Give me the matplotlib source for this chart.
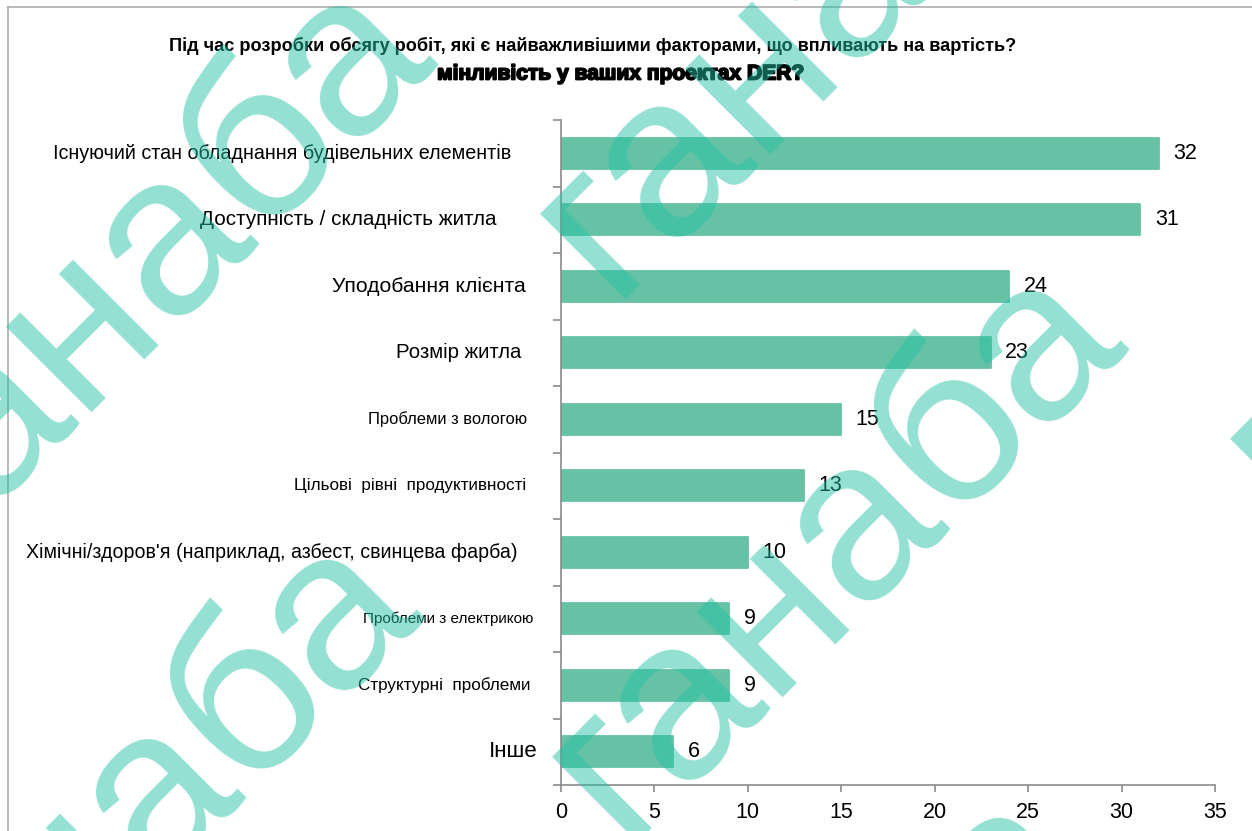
import matplotlib
matplotlib.use("Agg")
import matplotlib.pyplot as plt
import matplotlib.patheffects as pe
from matplotlib.transforms import IdentityTransform, blended_transform_factory
from matplotlib.lines import Line2D
import numpy as np

# ---- data -------------------------------------------------------------
categories = [
    "Існуючий стан обладнання будівельних елементів",
    "Доступність / складність житла",
    "Уподобання клієнта",
    "Розмір житла",
    "Проблеми з вологою",
    "Цільові  рівні  продуктивності",
    "Хімічні/здоров'я (наприклад, азбест, свинцева фарба)",
    "Проблеми з електрикою",
    "Структурні  проблеми",
    "Інше",
]
values = [32, 31, 24, 23, 15, 13, 10, 9, 9, 6]
x_ticks = [0, 5, 10, 15, 20, 25, 30, 35]
title_line1 = ("Під час розробки обсягу робіт, які є найважливішими "
               "факторами, що впливають на вартість?")
title_line2 = "мінливість у ваших проектах DER?"
watermark_word = "ганаба"

# ---- layout -----------------------------------------------------------
W, H, DPI = 1252, 831, 100
FONT = "Liberation Sans"
plt.rcParams["font.family"] = [FONT, "DejaVu Sans"]

BAR = "#66C2A5"
GREY = "#8a8a8a"

fig = plt.figure(figsize=(W / DPI, H / DPI), dpi=DPI, facecolor="white")
px = IdentityTransform()

# plot area in pixels: x 561..1215, y 120..785 (top-down)
ax = fig.add_axes([561 / W, 1 - 785 / H, (1215 - 561) / W, (785 - 120) / H])
ypos = np.arange(len(categories))
ax.barh(ypos, values, height=0.47, color=BAR, edgecolor=BAR,
        linewidth=1.3, joinstyle="round", zorder=2)
ax.set_xlim(0, 35)
ax.set_ylim(len(categories) - 0.5, -0.5)

for s in ("top", "right"):
    ax.spines[s].set_visible(False)
for s in ("left", "bottom"):
    ax.spines[s].set_color(GREY)
    ax.spines[s].set_linewidth(1.2)

ax.set_yticks([])
ax.set_yticks(np.arange(-0.5, len(categories), 1.0), minor=True)
ax.tick_params(axis="y", which="minor", length=6, width=1.2, color=GREY,
               direction="out")
ax.set_xticks(x_ticks)
ax.set_xticklabels([str(t) for t in x_ticks])
ax.tick_params(axis="x", length=5, width=1.2, color=GREY, labelsize=15.5,
               pad=7, labelcolor="black")

# value labels
for y, v in zip(ypos, values):
    ax.annotate(str(v), xy=(v, y), xytext=(10.5, 0), textcoords="offset points",
                ha="left", va="center", fontsize=15.5, color="black")

fig.canvas.draw()
renderer = fig.canvas.get_renderer()


def fit_width(t, width):
    bb = t.get_window_extent(renderer)
    t.set_fontsize(t.get_fontsize() * width / bb.width)


# category labels, right-aligned at individual offsets
label_right = [511, 497, 526, 521, 527, 526, 518, 533, 530, 538]
label_width = [459, 296, 194, 126, 160, 232, 492, 172, 173, 49]
lab_tr = blended_transform_factory(px, ax.transData)
for y, lab, r, w in zip(ypos, categories, label_right, label_width):
    t = ax.text(r, y, lab, transform=lab_tr, ha="right", va="center",
                fontsize=12, color="black", clip_on=False)
    fit_width(t, w)

# two-line title
t1 = fig.text(592.5, H - 46, title_line1, transform=px, ha="center",
              va="center", fontsize=12, fontweight="bold", color="black")
fit_width(t1, 845)
t2 = fig.text(621, H - 74, title_line2, transform=px, ha="center",
              va="center", fontsize=13, fontweight="bold", color="black",
              path_effects=[pe.withStroke(linewidth=1.3, foreground="black")])
fit_width(t2, 366)

# page frame
fig.add_artist(Line2D([8, W], [H - 7, H - 7], transform=px, color="#a6a6a6",
                      lw=1.1))
fig.add_artist(Line2D([8, 8], [0, H - 7], transform=px, color="#a6a6a6",
                      lw=1.1))

# diagonal watermark, baseline origins in pixel coords (top-down y)
wm_origins = [(-69, 558), (-82, 1112), (610, 300), (622, 843),
              (590, 1370), (1300, 525)]
for x0, y0 in wm_origins:
    fig.text(x0, H - y0, watermark_word, transform=px, rotation=45,
             rotation_mode="anchor", ha="left", va="baseline",
             fontsize=165, color=(35 / 255, 192 / 255, 163 / 255),
             alpha=0.49, zorder=100)

fig.savefig("out.png", dpi=DPI, facecolor="white")
